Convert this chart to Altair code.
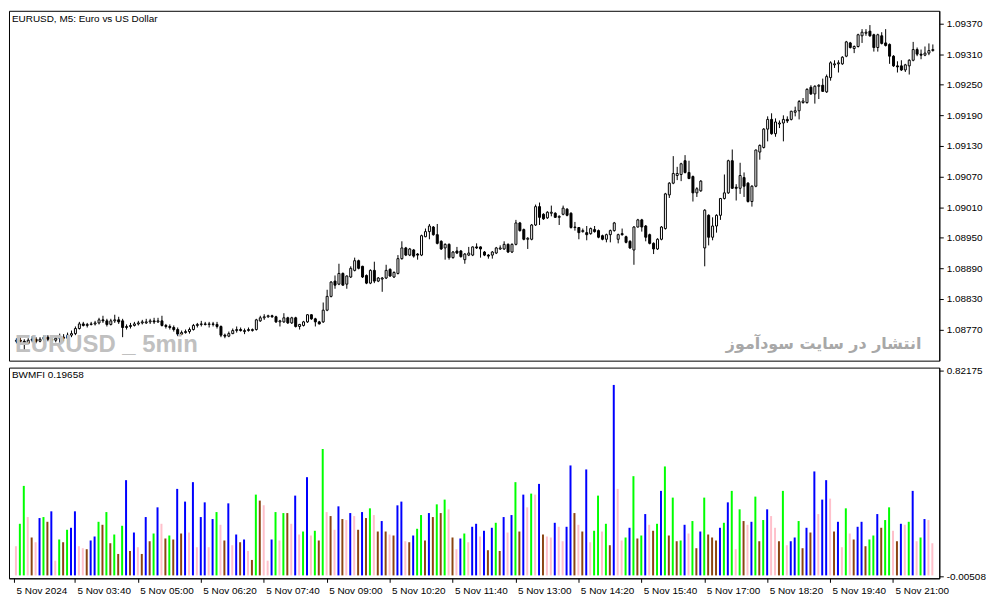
import altair as alt
import pandas as pd

# ---------------- data ----------------
header_text = "EURUSD, M5:  Euro vs US Dollar"
indicator_text = "BWMFI 0.19658"
watermark_left = "EURUSD _ 5min"
watermark_right = "انتشار در سایت سودآموز"

opens = [
    1.08747, 1.08749, 1.08747, 1.08743, 1.08749, 1.08751, 1.08747, 1.08751, 1.08755, 1.08751,
    1.08749, 1.08753, 1.08755, 1.08753, 1.08759, 1.08762, 1.08772, 1.08781, 1.08778, 1.08780,
    1.08781, 1.08783, 1.08789, 1.08787, 1.08780, 1.08787, 1.08789, 1.08787, 1.08774, 1.08776,
    1.08778, 1.08781, 1.08783, 1.08783, 1.08785, 1.08787, 1.08785, 1.08787, 1.08778, 1.08776,
    1.08774, 1.08770, 1.08761, 1.08764, 1.08766, 1.08770, 1.08778, 1.08780, 1.08781, 1.08780,
    1.08781, 1.08780, 1.08776, 1.08759, 1.08757, 1.08762, 1.08768, 1.08770, 1.08766, 1.08768,
    1.08768, 1.08770, 1.08787, 1.08793, 1.08795, 1.08797, 1.08795, 1.08785, 1.08785, 1.08793,
    1.08783, 1.08793, 1.08776, 1.08778, 1.08785, 1.08799, 1.08791, 1.08785, 1.08785, 1.08808,
    1.08835, 1.08865, 1.08859, 1.08880, 1.08859, 1.08873, 1.08886, 1.08905, 1.08894, 1.08876,
    1.08861, 1.08886, 1.08865, 1.08869, 1.08871, 1.08888, 1.08873, 1.08880, 1.08909, 1.08930,
    1.08916, 1.08926, 1.08918, 1.08916, 1.08952, 1.08962, 1.08971, 1.08956, 1.08943, 1.08930,
    1.08937, 1.08911, 1.08924, 1.08924, 1.08907, 1.08916, 1.08916, 1.08932, 1.08932, 1.08922,
    1.08916, 1.08916, 1.08920, 1.08928, 1.08928, 1.08937, 1.08922, 1.08937, 1.08979, 1.08966,
    1.08947, 1.08947, 1.08975, 1.09011, 1.08996, 1.08989, 1.08998, 1.08998, 1.08990, 1.08996,
    1.09006, 1.08998, 1.08970, 1.08970, 1.08962, 1.08960, 1.08958, 1.08966, 1.08964, 1.08954,
    1.08947, 1.08956, 1.08964, 1.08947, 1.08958, 1.08952, 1.08943, 1.08926, 1.08971, 1.08985,
    1.08973, 1.08956, 1.08939, 1.08928, 1.08947, 1.08968, 1.09034, 1.09057, 1.09072, 1.09074,
    1.09101, 1.09078, 1.09070, 1.09038, 1.09042, 1.08930, 1.08994, 1.08951, 1.08973, 1.08994,
    1.09027, 1.09038, 1.09101, 1.09049, 1.09047, 1.09068, 1.09057, 1.09021, 1.09051, 1.09118,
    1.09127, 1.09163, 1.09182, 1.09154, 1.09173, 1.09175, 1.09182, 1.09182, 1.09196, 1.09199,
    1.09215, 1.09215, 1.09245, 1.09232, 1.09247, 1.09249, 1.09236, 1.09264, 1.09289, 1.09291,
    1.09291, 1.09306, 1.09332, 1.09321, 1.09325, 1.09346, 1.09351, 1.09355, 1.09348, 1.09323,
    1.09346, 1.09332, 1.09329, 1.09306, 1.09287, 1.09287, 1.09279, 1.09287, 1.09298, 1.09319,
    1.09310, 1.09308, 1.09312, 1.09317,
]
highs = [
    1.08753, 1.08755, 1.08751, 1.08753, 1.08757, 1.08755, 1.08755, 1.08759, 1.08759, 1.08757,
    1.08759, 1.08762, 1.08761, 1.08764, 1.08768, 1.08776, 1.08785, 1.08785, 1.08783, 1.08785,
    1.08787, 1.08793, 1.08797, 1.08791, 1.08791, 1.08799, 1.08795, 1.08791, 1.08780, 1.08783,
    1.08785, 1.08787, 1.08789, 1.08791, 1.08791, 1.08793, 1.08793, 1.08797, 1.08781, 1.08780,
    1.08778, 1.08774, 1.08768, 1.08770, 1.08774, 1.08781, 1.08783, 1.08787, 1.08785, 1.08785,
    1.08785, 1.08785, 1.08778, 1.08762, 1.08766, 1.08772, 1.08776, 1.08774, 1.08772, 1.08774,
    1.08772, 1.08791, 1.08797, 1.08800, 1.08799, 1.08799, 1.08797, 1.08789, 1.08802, 1.08795,
    1.08795, 1.08795, 1.08781, 1.08787, 1.08800, 1.08800, 1.08793, 1.08787, 1.08823, 1.08848,
    1.08865, 1.08876, 1.08899, 1.08882, 1.08876, 1.08894, 1.08911, 1.08907, 1.08895, 1.08878,
    1.08888, 1.08903, 1.08873, 1.08873, 1.08897, 1.08890, 1.08884, 1.08916, 1.08943, 1.08932,
    1.08930, 1.08928, 1.08920, 1.08956, 1.08968, 1.08977, 1.08973, 1.08977, 1.08945, 1.08939,
    1.08939, 1.08924, 1.08932, 1.08926, 1.08920, 1.08932, 1.08933, 1.08939, 1.08933, 1.08924,
    1.08918, 1.08924, 1.08932, 1.08935, 1.08943, 1.08939, 1.08939, 1.08985, 1.08981, 1.08968,
    1.08951, 1.08977, 1.09015, 1.09019, 1.08998, 1.09002, 1.09013, 1.09000, 1.08994, 1.09013,
    1.09008, 1.09000, 1.08981, 1.08971, 1.08968, 1.08973, 1.08970, 1.08973, 1.08966, 1.08956,
    1.08958, 1.08966, 1.08981, 1.08958, 1.08968, 1.08954, 1.08945, 1.08973, 1.08987, 1.08987,
    1.08975, 1.08958, 1.08941, 1.08949, 1.08973, 1.09038, 1.09059, 1.09110, 1.09089, 1.09097,
    1.09112, 1.09101, 1.09072, 1.09049, 1.09063, 1.09006, 1.08996, 1.08990, 1.08996, 1.09028,
    1.09074, 1.09103, 1.09123, 1.09055, 1.09097, 1.09078, 1.09059, 1.09053, 1.09123, 1.09133,
    1.09165, 1.09188, 1.09194, 1.09184, 1.09180, 1.09190, 1.09188, 1.09199, 1.09207, 1.09220,
    1.09224, 1.09243, 1.09249, 1.09249, 1.09251, 1.09262, 1.09270, 1.09296, 1.09298, 1.09298,
    1.09306, 1.09336, 1.09334, 1.09327, 1.09350, 1.09359, 1.09359, 1.09367, 1.09350, 1.09350,
    1.09353, 1.09359, 1.09331, 1.09308, 1.09296, 1.09298, 1.09291, 1.09300, 1.09334, 1.09323,
    1.09319, 1.09325, 1.09331, 1.09329,
]
lows = [
    1.08743, 1.08742, 1.08726, 1.08742, 1.08745, 1.08743, 1.08745, 1.08747, 1.08747, 1.08743,
    1.08745, 1.08742, 1.08747, 1.08742, 1.08755, 1.08759, 1.08770, 1.08776, 1.08774, 1.08778,
    1.08778, 1.08780, 1.08783, 1.08776, 1.08778, 1.08783, 1.08781, 1.08755, 1.08770, 1.08772,
    1.08776, 1.08778, 1.08780, 1.08781, 1.08781, 1.08781, 1.08783, 1.08776, 1.08772, 1.08770,
    1.08766, 1.08757, 1.08759, 1.08762, 1.08762, 1.08768, 1.08774, 1.08776, 1.08778, 1.08774,
    1.08776, 1.08772, 1.08755, 1.08753, 1.08755, 1.08761, 1.08764, 1.08766, 1.08761, 1.08766,
    1.08766, 1.08768, 1.08785, 1.08789, 1.08793, 1.08793, 1.08783, 1.08776, 1.08783, 1.08781,
    1.08781, 1.08774, 1.08770, 1.08776, 1.08783, 1.08789, 1.08776, 1.08780, 1.08783, 1.08806,
    1.08833, 1.08850, 1.08857, 1.08856, 1.08850, 1.08871, 1.08884, 1.08888, 1.08871, 1.08859,
    1.08859, 1.08861, 1.08863, 1.08844, 1.08869, 1.08873, 1.08871, 1.08878, 1.08907, 1.08914,
    1.08914, 1.08911, 1.08907, 1.08914, 1.08951, 1.08947, 1.08954, 1.08937, 1.08926, 1.08907,
    1.08907, 1.08909, 1.08918, 1.08911, 1.08899, 1.08914, 1.08914, 1.08928, 1.08911, 1.08914,
    1.08909, 1.08909, 1.08918, 1.08926, 1.08926, 1.08920, 1.08920, 1.08935, 1.08962, 1.08945,
    1.08928, 1.08945, 1.08973, 1.08975, 1.08985, 1.08987, 1.08992, 1.08989, 1.08975, 1.08994,
    1.08992, 1.08968, 1.08964, 1.08947, 1.08960, 1.08945, 1.08956, 1.08960, 1.08949, 1.08945,
    1.08941, 1.08941, 1.08962, 1.08939, 1.08954, 1.08939, 1.08928, 1.08897, 1.08970, 1.08962,
    1.08943, 1.08937, 1.08918, 1.08926, 1.08945, 1.08966, 1.09028, 1.09055, 1.09063, 1.09061,
    1.09076, 1.09065, 1.09021, 1.09030, 1.09040, 1.08894, 1.08935, 1.08945, 1.08960, 1.08985,
    1.09025, 1.09036, 1.09046, 1.09023, 1.09036, 1.09030, 1.09019, 1.09011, 1.09049, 1.09103,
    1.09125, 1.09139, 1.09152, 1.09148, 1.09165, 1.09139, 1.09175, 1.09180, 1.09188, 1.09182,
    1.09213, 1.09213, 1.09230, 1.09213, 1.09222, 1.09236, 1.09234, 1.09258, 1.09283, 1.09274,
    1.09289, 1.09304, 1.09321, 1.09312, 1.09323, 1.09332, 1.09346, 1.09344, 1.09315, 1.09315,
    1.09329, 1.09325, 1.09291, 1.09285, 1.09274, 1.09277, 1.09275, 1.09270, 1.09296, 1.09306,
    1.09300, 1.09306, 1.09308, 1.09315,
]
closes = [
    1.08749, 1.08747, 1.08743, 1.08749, 1.08751, 1.08747, 1.08751, 1.08755, 1.08751, 1.08749,
    1.08753, 1.08755, 1.08753, 1.08759, 1.08762, 1.08772, 1.08781, 1.08778, 1.08780, 1.08781,
    1.08783, 1.08789, 1.08787, 1.08780, 1.08787, 1.08789, 1.08785, 1.08774, 1.08776, 1.08778,
    1.08781, 1.08783, 1.08785, 1.08785, 1.08787, 1.08785, 1.08787, 1.08778, 1.08776, 1.08774,
    1.08770, 1.08761, 1.08764, 1.08766, 1.08770, 1.08778, 1.08780, 1.08781, 1.08780, 1.08781,
    1.08780, 1.08776, 1.08759, 1.08757, 1.08762, 1.08768, 1.08770, 1.08768, 1.08768, 1.08770,
    1.08770, 1.08789, 1.08793, 1.08795, 1.08797, 1.08795, 1.08785, 1.08787, 1.08793, 1.08783,
    1.08793, 1.08776, 1.08780, 1.08785, 1.08799, 1.08791, 1.08785, 1.08781, 1.08808, 1.08835,
    1.08863, 1.08857, 1.08880, 1.08857, 1.08875, 1.08890, 1.08905, 1.08890, 1.08873, 1.08861,
    1.08886, 1.08865, 1.08871, 1.08871, 1.08886, 1.08875, 1.08882, 1.08909, 1.08930, 1.08916,
    1.08928, 1.08914, 1.08916, 1.08954, 1.08962, 1.08973, 1.08956, 1.08939, 1.08928, 1.08937,
    1.08911, 1.08922, 1.08920, 1.08913, 1.08918, 1.08920, 1.08932, 1.08930, 1.08928, 1.08916,
    1.08914, 1.08922, 1.08930, 1.08930, 1.08937, 1.08922, 1.08937, 1.08979, 1.08964, 1.08947,
    1.08949, 1.08975, 1.09011, 1.08990, 1.08987, 1.09000, 1.09000, 1.08990, 1.08992, 1.09008,
    1.08994, 1.08970, 1.08971, 1.08960, 1.08964, 1.08956, 1.08968, 1.08962, 1.08951, 1.08947,
    1.08956, 1.08964, 1.08979, 1.08956, 1.08956, 1.08941, 1.08930, 1.08971, 1.08985, 1.08971,
    1.08951, 1.08939, 1.08928, 1.08947, 1.08971, 1.09036, 1.09057, 1.09076, 1.09076, 1.09095,
    1.09078, 1.09066, 1.09038, 1.09046, 1.09061, 1.09004, 1.08951, 1.08973, 1.08994, 1.09027,
    1.09038, 1.09101, 1.09047, 1.09047, 1.09072, 1.09051, 1.09021, 1.09051, 1.09122, 1.09131,
    1.09163, 1.09182, 1.09154, 1.09177, 1.09175, 1.09182, 1.09179, 1.09198, 1.09199, 1.09217,
    1.09218, 1.09241, 1.09232, 1.09247, 1.09249, 1.09237, 1.09266, 1.09293, 1.09291, 1.09293,
    1.09304, 1.09334, 1.09323, 1.09325, 1.09348, 1.09353, 1.09353, 1.09346, 1.09323, 1.09348,
    1.09331, 1.09327, 1.09306, 1.09287, 1.09285, 1.09279, 1.09289, 1.09298, 1.09319, 1.09310,
    1.09308, 1.09312, 1.09317, 1.09319,
]

bw_values = [
    0.117, 0.207, 0.359, 0.234, 0.152, 0.133, 0.230, 0.234, 0.215, 0.257,
    0.059, 0.144, 0.133, 0.183, 0.191, 0.257, 0.117, 0.109, 0.105, 0.140,
    0.156, 0.215, 0.203, 0.254, 0.129, 0.164, 0.086, 0.199, 0.382, 0.098,
    0.172, 0.113, 0.086, 0.234, 0.137, 0.168, 0.273, 0.207, 0.148, 0.160,
    0.144, 0.347, 0.168, 0.296, 0.172, 0.374, 0.113, 0.234, 0.293, 0.113,
    0.226, 0.254, 0.203, 0.140, 0.289, 0.121, 0.164, 0.133, 0.144,
    0.098, 0.062, 0.324, 0.300, 0.281, 0.059, 0.144, 0.254, 0.140, 0.250,
    0.250, 0.207, 0.320, 0.164, 0.176, 0.394, 0.160, 0.179, 0.140, 0.507,
    0.254, 0.238, 0.183, 0.277, 0.226, 0.222, 0.250, 0.238, 0.183, 0.254,
    0.230, 0.269, 0.242, 0.176, 0.218, 0.176, 0.164, 0.160, 0.281, 0.296,
    0.137, 0.133, 0.160, 0.187, 0.242, 0.140, 0.250, 0.234, 0.285, 0.250,
    0.304, 0.265, 0.152, 0.105, 0.148, 0.168, 0.133, 0.195, 0.207,
    0.156, 0.179, 0.101, 0.191, 0.211, 0.098, 0.234, 0.172, 0.242, 0.374,
    0.176, 0.324, 0.273, 0.328, 0.324, 0.367, 0.164, 0.156, 0.152, 0.211,
    0.195, 0.137, 0.195, 0.441, 0.250, 0.203, 0.176, 0.425, 0.133, 0.179,
    0.320, 0.176, 0.207, 0.121, 0.764, 0.347, 0.140, 0.152, 0.191, 0.398,
    0.148, 0.160, 0.246, 0.203, 0.179, 0.207, 0.339, 0.437, 0.160, 0.312,
    0.137, 0.140, 0.203, 0.168, 0.218, 0.109, 0.176, 0.312, 0.164,
    0.152, 0.140, 0.191, 0.211, 0.293, 0.339, 0.105, 0.265, 0.218, 0.203,
    0.215, 0.316, 0.137, 0.222, 0.265, 0.238, 0.191, 0.137, 0.339, 0.121,
    0.137, 0.152, 0.218, 0.109, 0.191, 0.172, 0.417, 0.246, 0.304, 0.382,
    0.308, 0.176, 0.215, 0.113, 0.269, 0.168, 0.144, 0.195, 0.215, 0.117,
    0.144, 0.160, 0.246, 0.191, 0.222, 0.273, 0.179, 0.137, 0.207, 0.203,
    0.215, 0.339, 0.137, 0.152, 0.226, 0.222, 0.129,
]
# g = MFI up / volume up, r = both down, b = MFI up / volume down, p = MFI down / volume up
bw_codes = (
    "p g g p r p b g r b p g r g b b p p r b b g r g r g r g b r b p r b r g b p r g "
    "r b r b p b p b b p b g p r b p b r b "
    "p r g r p p b g p g r p b p g b p g r g p r p b r p b p r b r g p r b r p r b b "
    "p r b g g r b r g r g p r p b g p b b "
    "p b r b g r b p b g r b p g p b r p p b p p b b r p r b p g g p g r b p p g b g "
    "r g b p r g b g r g r g b p g r b g r "
    "r r b g b g p g r p b g r g b p p r g p b b g r b r b p b b p r b p g p r b b r "
    "g g b r g g p r b p g b p g b p p"
).split()
state_names = {"g": "green", "r": "brown", "b": "blue", "p": "pink"}
state_domain = ["green", "brown", "blue", "pink"]
state_colors = ["#00FF00", "#8B4513", "#0000FF", "#FFC0CB"]

price_ticks = [1.08770, 1.08830, 1.08890, 1.08950, 1.09010, 1.09070,
               1.09130, 1.09190, 1.09250, 1.09310, 1.09370]
bw_ticks = [0.82175, -0.00508]
time_tick_bars = [-0.5, 15, 31, 47, 63, 79, 95, 111, 127, 143, 159, 175, 191, 207, 223]
time_tick_labels = ["5 Nov 2024", "5 Nov 03:40", "5 Nov 05:00", "5 Nov 06:20", "5 Nov 07:40",
                    "5 Nov 09:00", "5 Nov 10:20", "5 Nov 11:40", "5 Nov 13:00", "5 Nov 14:20",
                    "5 Nov 15:40", "5 Nov 17:00", "5 Nov 18:20", "5 Nov 19:40", "5 Nov 21:00"]

# ---------------- tables ----------------
n = len(closes)
candles = pd.DataFrame({"bar": list(range(n)), "open": opens, "high": highs,
                        "low": lows, "close": closes})
candles["body_lo"] = candles[["open", "close"]].min(axis=1)
candles["body_hi"] = candles[["open", "close"]].max(axis=1)
candles["dir"] = ["up" if c >= o else "down" for o, c in zip(opens, closes)]

hist = pd.DataFrame({"bar": list(range(n)), "bwmfi": bw_values,
                     "state": [state_names[c] for c in bw_codes]})
hist["base"] = 0.0

# ---------------- chart ----------------
FONT = "Liberation Sans"
W, H1, H2 = 936, 352, 212

x_scale = alt.Scale(domain=[-0.5, n - 0.5], nice=False, zero=False)
p_scale = alt.Scale(domain=[1.08709, 1.09395], nice=False, zero=False)
b_scale = alt.Scale(domain=[-0.0117, 0.8335], nice=False, zero=False)

axis_style = dict(title=None, grid=False, tickSize=4, tickColor="black", domainColor="black",
                  labelColor="black", labelFont=FONT, labelFontSize=10, labelPadding=3,
                  labelOverlap=False, labelFlush=False)

price_axis = alt.Axis(orient="right", values=price_ticks, format=".5f", **axis_style)
bw_axis = alt.Axis(orient="right", values=bw_ticks, format=".5f",
                   labelExpr="replace(datum.label, '\u2212', '-')", **axis_style)

time_expr = " : ".join(f"datum.value == {v} ? '{t}'"
                       for v, t in zip(time_tick_bars, time_tick_labels)) + " : ''"
x_axis = alt.Axis(orient="bottom", values=time_tick_bars, labelExpr=time_expr,
                  labelAlign="left", labelOffset=2, **axis_style)

wicks = alt.Chart(candles).mark_rule(color="black", strokeWidth=1, xOffset=0.5).encode(
    x=alt.X("bar:Q", scale=x_scale, axis=None),
    y=alt.Y("low:Q", scale=p_scale, axis=price_axis),
    y2="high:Q",
)
bodies = alt.Chart(candles).mark_bar(size=2, stroke="black", strokeWidth=1, xOffset=0.5).encode(
    x=alt.X("bar:Q", scale=x_scale, axis=None),
    y=alt.Y("body_lo:Q", scale=p_scale, axis=price_axis),
    y2="body_hi:Q",
    fill=alt.Fill("dir:N", scale=alt.Scale(domain=["up", "down"], range=["white", "black"]),
                  legend=None),
)
header = alt.Chart(pd.DataFrame({"t": [header_text]})).mark_text(
    align="left", baseline="top", font=FONT, fontSize=10, color="black").encode(
    x=alt.value(3), y=alt.value(3), text="t:N")
wm_left = alt.Chart(pd.DataFrame({"t": [watermark_left]})).mark_text(
    align="left", baseline="alphabetic", font=FONT,
    fontSize=24, fontWeight="bold", color="#C0C0C0").encode(
    x=alt.value(6), y=alt.value(343), text="t:N")
wm_right = alt.Chart(pd.DataFrame({"t": [watermark_right]})).mark_text(
    align="right", baseline="alphabetic", font="DejaVu Sans", fontSize=16,
    fontWeight="bold", color="#A8A8A8").encode(
    x=alt.value(918), y=alt.value(340), text="t:N")

top = alt.layer(wicks, bodies, header, wm_left, wm_right).properties(width=W, height=H1)

bars = alt.Chart(hist).mark_bar(size=2).encode(
    x=alt.X("bar:Q", scale=x_scale, axis=x_axis),
    y=alt.Y("bwmfi:Q", scale=b_scale, axis=bw_axis),
    y2="base:Q",
    color=alt.Color("state:N", scale=alt.Scale(domain=state_domain, range=state_colors),
                    legend=None),
)
ind_label = alt.Chart(pd.DataFrame({"t": [indicator_text]})).mark_text(
    align="left", baseline="middle", font=FONT, fontSize=10, color="black").encode(
    x=alt.value(3), y=alt.value(7), text="t:N")

bottom = alt.layer(bars, ind_label).properties(width=W, height=H2)

chart = alt.vconcat(top, bottom, spacing=3).properties(
    padding={"left": 0, "top": 0, "right": 0, "bottom": 0},
    background="white",
).configure_view(stroke="black", strokeWidth=1)

chart.save("out.html", embed_options={"renderer": "svg", "actions": False})
